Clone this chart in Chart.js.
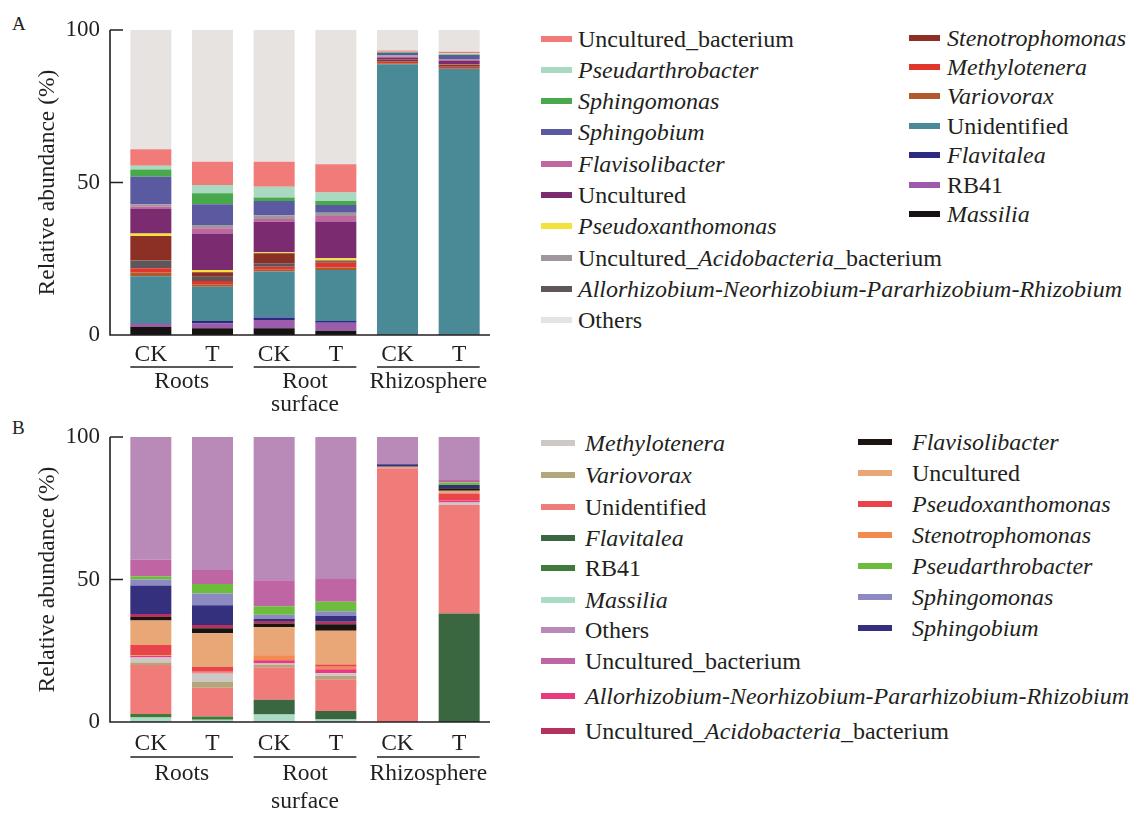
<!DOCTYPE html>
<html>
<head>
<meta charset="utf-8">
<script src="https://cdn.jsdelivr.net/npm/chart.js@4.4.1/dist/chart.umd.min.js"></script>
<style>
  html, body { margin: 0; padding: 0; background: #fff; }
  #page { position: relative; width: 1133px; height: 815px; overflow: hidden;
          font-family: "Liberation Serif", "Times New Roman", serif; color: #231f20; }
  #page canvas { position: absolute; left: 0; }
  .tag { position: absolute; font-size: 19px; line-height: 1; }
  .item { position: absolute; display: flex; align-items: center; white-space: nowrap;
          font-size: 24px; line-height: 1; transform: translateY(-50%); }
  .sw { display: inline-block; height: 6px; flex: none; }
</style>
</head>
<body>
<div id="page">
  <div class="tag" style="left:12px;top:14px">A</div>
  <div class="tag" style="left:12px;top:418px">B</div>
  <canvas id="chartA" width="530" height="420" style="top:0"></canvas>
  <canvas id="chartB" width="530" height="405" style="top:410px"></canvas>
  <div id="legendA"></div>
  <div id="legendB"></div>
</div>
<script>
// ---- sample layout ----
const samples = ['CK', 'T', 'CK', 'T', 'CK', 'T'];
const groups = [['Roots'], ['Root', 'surface'], ['Rhizosphere']];

// ---- panel A: taxa in stacking order (bottom -> top) ----
const taxaA = ['Massilia', 'RB41', 'Flavitalea', 'Unidentified', 'Variovorax', 'Methylotenera',
  'Allorhizobium-Neorhizobium-Pararhizobium-Rhizobium', 'Stenotrophomonas', 'Pseudoxanthomonas',
  'Uncultured', 'Flavisolibacter', 'Uncultured_Acidobacteria_bacterium', 'Sphingobium',
  'Sphingomonas', 'Pseudarthrobacter', 'Uncultured_bacterium', 'Others'];
// relative abundance (%) per taxon: Roots CK, Roots T, Surface CK, Surface T, Rhizo CK, Rhizo T
const abundanceA = [
  [2.7, 2.2, 2.2, 1.4, 0, 0],
  [0.9, 1.6, 2.7, 2.6, 0, 0],
  [0.2, 0.8, 0.8, 0.6, 0, 0.1],
  [15.5, 11.2, 15.1, 16.7, 88.8, 87.1],
  [1.2, 0.8, 0.6, 0.8, 0.3, 0.3],
  [1.4, 1.1, 1.0, 1.6, 0.4, 0.4],
  [2.5, 1.4, 1.1, 0.3, 0.2, 0.2],
  [8.1, 1.5, 3.3, 0.4, 0.6, 0.6],
  [0.8, 0.7, 0.3, 0.8, 0, 0.1],
  [8.2, 12.0, 10.0, 12.0, 0.7, 1.1],
  [0.6, 1.7, 0.9, 1.8, 0.3, 0.3],
  [0.8, 1.1, 1.3, 1.1, 0.3, 0.3],
  [9.0, 6.8, 4.6, 2.5, 0.9, 1.3],
  [2.4, 3.6, 1.2, 1.3, 0.2, 0.2],
  [1.2, 2.7, 3.5, 2.8, 0.2, 0.4],
  [5.4, 7.6, 8.2, 9.3, 0.4, 0.5],
  [39.1, 43.2, 43.2, 44.0, 6.7, 7.1]
];
const colorsA = ['#161312', '#9c5cab', '#2d2a82', '#4a8a96', '#b3582d', '#e0362c',
  '#5f5659', '#8c2f25', '#f3e23b', '#7b2b6f', '#c0679f', '#9f979d', '#5b5aa0',
  '#47a94b', '#a9d9c0', '#f07b78', '#e7e3e1'];
const legendColsA = [
  ['Uncultured_bacterium', 'Pseudarthrobacter', 'Sphingomonas', 'Sphingobium', 'Flavisolibacter',
   'Uncultured', 'Pseudoxanthomonas', 'Uncultured_Acidobacteria_bacterium',
   'Allorhizobium-Neorhizobium-Pararhizobium-Rhizobium', 'Others'],
  ['Stenotrophomonas', 'Methylotenera', 'Variovorax', 'Unidentified', 'Flavitalea', 'RB41', 'Massilia']
];

// ---- panel B: taxa in stacking order (bottom -> top) ----
const taxaB = ['Massilia', 'RB41', 'Flavitalea', 'Unidentified', 'Variovorax', 'Methylotenera',
  'Allorhizobium-Neorhizobium-Pararhizobium-Rhizobium', 'Stenotrophomonas', 'Pseudoxanthomonas',
  'Uncultured', 'Flavisolibacter', 'Uncultured_Acidobacteria_bacterium', 'Sphingobium',
  'Sphingomonas', 'Pseudarthrobacter', 'Uncultured_bacterium', 'Others'];
const abundanceB = [
  [1.6, 0.8, 2.6, 0.9, 0, 0],
  [1.2, 1.1, 0, 0, 0, 0],
  [0, 0, 5.2, 3.0, 0, 38.1],
  [17.2, 10.1, 11.4, 11.1, 89.0, 38.0],
  [0.9, 2.1, 1.0, 1.1, 0, 0],
  [1.7, 2.9, 0.3, 1.0, 0, 0.9],
  [0.6, 0.3, 1.2, 1.4, 0, 0.7],
  [0.2, 0.3, 1.7, 0.9, 0, 0],
  [3.6, 1.8, 0.2, 0.8, 0, 2.5],
  [8.6, 11.7, 9.7, 11.8, 0.6, 0.9],
  [1.2, 1.8, 1.3, 2.3, 0, 0.9],
  [1.1, 1.1, 0.8, 0.9, 0, 0],
  [10.0, 7.0, 0.8, 2.0, 0.8, 1.2],
  [2.1, 4.1, 1.4, 1.7, 0, 0],
  [1.1, 3.3, 3.0, 3.3, 0, 0.8],
  [5.9, 4.9, 9.1, 8.0, 0, 0.9],
  [43.0, 46.7, 50.3, 49.8, 9.6, 15.1]
];
const colorsB = ['#aadcc3', '#3f7a3b', '#3a6640', '#f07c7a', '#b3a67b', '#cdc8c6',
  '#e83a7e', '#f28c4e', '#e9444c', '#e9a677', '#1c1411', '#b5325f', '#35307e',
  '#8d8ac2', '#6cbd3c', '#c065a3', '#b98ab8'];
const legendColsB = [
  ['Methylotenera', 'Variovorax', 'Unidentified', 'Flavitalea', 'RB41', 'Massilia', 'Others',
   'Uncultured_bacterium', 'Allorhizobium-Neorhizobium-Pararhizobium-Rhizobium',
   'Uncultured_Acidobacteria_bacterium'],
  ['Flavisolibacter', 'Uncultured', 'Pseudoxanthomonas', 'Stenotrophomonas', 'Pseudarthrobacter',
   'Sphingomonas', 'Sphingobium']
];

// genus names set in italics
const italicNames = ['Massilia', 'Flavitalea', 'Variovorax', 'Methylotenera',
  'Allorhizobium-Neorhizobium-Pararhizobium-Rhizobium', 'Stenotrophomonas', 'Pseudoxanthomonas',
  'Flavisolibacter', 'Sphingobium', 'Sphingomonas', 'Pseudarthrobacter'];

const FONT = 'Liberation Serif';
const INK = '#231f20';

// axis frame, inward ticks and grouped category labels
const framePlugin = {
  id: 'frame',
  afterDraw(chart, args, opts) {
    const { ctx, chartArea: a, scales: { x, y } } = chart;
    const ax = a.left - opts.gap;
    const y0 = y.getPixelForValue(0);
    ctx.save();
    ctx.strokeStyle = INK;
    ctx.lineWidth = 1.6;
    ctx.beginPath();
    ctx.moveTo(ax, y.getPixelForValue(100));
    ctx.lineTo(ax, y0);
    ctx.lineTo(a.right, y0);
    y.ticks.forEach(t => {
      const py = y.getPixelForValue(t.value);
      ctx.moveTo(ax, py);
      ctx.lineTo(ax + opts.tick, py);
    });
    ctx.stroke();

    const bars = chart.getDatasetMeta(0).data;
    ctx.lineWidth = 1.3;
    ctx.fillStyle = INK;
    ctx.font = opts.fontSize + 'px "' + FONT + '"';
    ctx.textAlign = 'center';
    ctx.textBaseline = 'middle';
    groups.forEach((lines, gi) => {
      const b0 = bars[gi * 2], b1 = bars[gi * 2 + 1];
      const left = b0.x - b0.width / 2, right = b1.x + b1.width / 2;
      ctx.beginPath();
      ctx.moveTo(left, a.bottom + opts.under);
      ctx.lineTo(right, a.bottom + opts.under);
      ctx.stroke();
      lines.forEach((txt, k) => {
        ctx.fillText(txt, (left + right) / 2, a.bottom + opts.label + k * opts.lineGap);
      });
    });
    ctx.restore();
  }
};

function makeChart(id, taxa, rows, colors, geom) {
  const datasets = taxa.map((name, i) => ({
    label: name,
    data: rows[i],
    backgroundColor: colors[i],
    borderWidth: 0,
    barPercentage: 0.665,
    categoryPercentage: 1
  }));
  return new Chart(document.getElementById(id), {
    type: 'bar',
    data: { labels: samples, datasets },
    options: {
      responsive: false,
      animation: false,
      devicePixelRatio: 1,
      layout: { padding: { top: geom.top, right: geom.right, left: 0, bottom: 0 } },
      plugins: {
        legend: { display: false },
        tooltip: { enabled: false },
        frame: geom.frame
      },
      scales: {
        x: {
          stacked: true,
          grid: { display: false, drawTicks: false },
          border: { display: false },
          ticks: { font: { family: FONT, size: 23.5 }, color: INK, padding: geom.tickPad,
                   maxRotation: 0, autoSkip: false },
          afterFit: s => { s.height = geom.xHeight; }
        },
        y: {
          stacked: true,
          min: 0, max: 100,
          // tick marks themselves are drawn inward by the frame plugin; this only spaces the labels
          grid: { display: false, drawTicks: true, tickLength: 18 },
          border: { display: false },
          ticks: { stepSize: 50, font: { family: FONT, size: 23 }, color: INK, padding: 2 },
          title: { display: true, text: 'Relative abundance (%)', color: INK,
                   font: { family: FONT, size: 23.5 }, padding: { top: 34, bottom: 0 } },
          afterFit: s => { s.width = 120; }
        }
      }
    },
    plugins: [framePlugin]
  });
}

function labelNode(name) {
  const span = document.createElement('span');
  if (name === 'Uncultured_Acidobacteria_bacterium') {
    span.append('Uncultured_');
    const i = document.createElement('i');
    i.textContent = 'Acidobacteria';
    span.append(i, '_bacterium');
  } else if (italicNames.includes(name)) {
    const i = document.createElement('i');
    i.textContent = name;
    span.append(i);
  } else {
    span.textContent = name;
  }
  return span;
}

function buildLegend(el, chart, cols, layout) {
  cols.forEach((names, c) => {
    const L = layout[c];
    names.forEach((name, k) => {
      const ds = chart.data.datasets.find(d => d.label === name);
      const item = document.createElement('div');
      item.className = 'item';
      item.style.left = L.x + 'px';
      item.style.top = (L.rows ? L.rows[k] : L.y0 + k * L.dy) + 'px';
      const sw = document.createElement('span');
      sw.className = 'sw';
      sw.style.width = L.sw + 'px';
      sw.style.marginRight = L.gap + 'px';
      sw.style.background = ds.backgroundColor;
      item.append(sw, labelNode(name));
      el.append(item);
    });
  });
}

const chartA = makeChart('chartA', taxaA, abundanceA, colorsA, {
  top: 30, right: 40, xHeight: 85, tickPad: 6,
  frame: { gap: 10, tick: 13, under: 32, label: 47, lineGap: 23, fontSize: 23.5 }
});
const chartB = makeChart('chartB', taxaB, abundanceB, colorsB, {
  top: 27, right: 40, xHeight: 93, tickPad: 8,
  frame: { gap: 10, tick: 13, under: 35, label: 52, lineGap: 28, fontSize: 23.5 }
});

buildLegend(document.getElementById('legendA'), chartA, legendColsA, [
  { x: 541, y0: 38.5, dy: 31.3, sw: 31, gap: 6 },
  { x: 909, y0: 37.5, dy: 29.4, sw: 31, gap: 7 }
]);
buildLegend(document.getElementById('legendB'), chartB, legendColsB, [
  { x: 541, rows: [443, 475, 507, 538, 568, 600, 630, 661, 696, 731], sw: 34, gap: 10 },
  { x: 858, y0: 442, dy: 31, sw: 34, gap: 20 }
]);
</script>
</body>
</html>
